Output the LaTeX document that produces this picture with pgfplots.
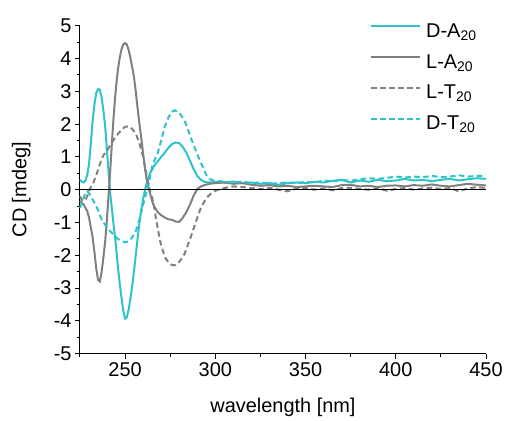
\documentclass[border=0pt]{standalone}
\usepackage{pgfplots}
\pgfplotsset{compat=1.18}
\usepackage{fontspec}
\setmainfont{Liberation Sans}
\definecolor{cyn}{RGB}{44,196,202}
\definecolor{gry}{RGB}{128,128,128}
\tikzset{lw/.style={line width=2bp}, dsh/.style={dash pattern=on 5.5bp off 3.5bp}}
\begin{document}
\begin{tikzpicture}
\begin{axis}[
  scale only axis, width=406bp, height=328bp,
  xmin=225, xmax=450, ymin=-5, ymax=5,
  axis lines=left, axis line style={-, line width=1bp},
  tick align=outside,
  xtick={250,300,350,400,450}, minor xtick={225,275,325,375,425},
  ytick={-5,-4,...,5}, minor ytick={-4.5,-3.5,-2.5,-1.5,-0.5,0.5,1.5,2.5,3.5,4.5},
  major tick length=5bp, minor tick length=3bp,
  every tick/.style={black, line width=1bp},
  /pgf/number format/assume math mode=true,
  tick label style={font=\fontsize{20}{24}\selectfont},
  xlabel={wavelength [nm]}, ylabel={CD [mdeg]},
  every axis x label/.style={at={(axis description cs:0.5,-0.165)}, anchor=center, font=\fontsize{20}{24}\selectfont},
  every axis y label/.style={at={(axis description cs:-0.145,0.5)}, anchor=center, rotate=90, font=\fontsize{20}{24}\selectfont},
  clip=false,
]
\addplot[cyn, lw] coordinates {
(225,0.30)(226,0.24)(227,0.22)(228,0.28)(229,0.45)(230,0.78)(231,1.4)(232,2.1)(233,2.6)(234,2.95)(235,3.07)(236,3.05)(237,2.8)(238,2.4)(239,1.9)(240,1.15)(241,0.4)(242,-0.25)(243,-0.75)(244,-1.25)(245,-1.75)(246,-2.35)(247,-2.85)(248,-3.3)(249,-3.7)(250,-3.93)(251,-3.88)(252,-3.65)(253,-3.3)(254,-2.9)(255,-2.45)(256,-1.95)(257,-1.45)(258,-0.98)(259,-0.6)(260,-0.28)(261,-0.02)(262,0.2)(263,0.38)(264,0.52)(266,0.72)(268,0.86)(270,1.0)(272,1.13)(274,1.28)(276,1.39)(278,1.44)(280,1.42)(282,1.3)(284,1.12)(286,0.88)(288,0.62)(290,0.42)(292,0.3)(294,0.24)(296,0.22)(298,0.22)(300,0.24)
(305,0.22)(310,0.25)(315,0.2)(320,0.22)(325,0.18)(330,0.2)(335,0.15)(340,0.2)(345,0.22)(350,0.2)(355,0.24)(360,0.22)(365,0.27)(370,0.3)(375,0.22)(380,0.28)(385,0.24)(390,0.3)(395,0.26)(400,0.28)(405,0.33)(410,0.28)(415,0.3)(420,0.26)(425,0.3)(430,0.33)(435,0.28)(440,0.32)(445,0.35)(450,0.33)};
\addplot[gry, lw] coordinates {
(225,-0.35)(227,-0.45)(229,-0.65)(230,-0.85)(231,-1.15)(232,-1.45)(233,-1.9)(234,-2.4)(235,-2.75)(236,-2.8)(237,-2.5)(238,-2.05)(239,-1.55)(240,-0.85)(241,-0.05)(242,0.8)(243,1.7)(244,2.5)(245,3.15)(246,3.65)(247,4.02)(248,4.28)(249,4.43)(250,4.47)(251,4.42)(252,4.25)(253,4.0)(254,3.72)(255,3.4)(256,2.95)(257,2.45)(258,1.98)(259,1.55)(260,1.1)(261,0.65)(262,0.3)(263,0.05)(264,-0.15)(265,-0.35)(266,-0.5)(268,-0.68)(270,-0.78)(272,-0.85)(274,-0.9)(276,-0.92)(278,-0.97)(280,-0.98)(282,-0.85)(284,-0.68)(286,-0.45)(288,-0.18)(290,0.02)(292,0.1)(294,0.14)(296,0.17)(298,0.19)(300,0.2)
(305,0.22)(310,0.18)(315,0.2)(320,0.15)(325,0.12)(330,0.14)(335,0.1)(340,0.12)(345,0.08)(350,0.1)(355,0.12)(360,0.1)(365,0.08)(370,0.14)(375,0.15)(380,0.1)(385,0.12)(390,0.08)(395,0.12)(400,0.13)(405,0.1)(410,0.14)(415,0.12)(420,0.16)(425,0.12)(430,0.1)(435,0.14)(440,0.18)(445,0.15)(450,0.13)};
\addplot[gry, lw, dsh] coordinates {
(225,-0.2)(226,-0.32)(227,-0.35)(228,-0.3)(229,-0.2)(230,-0.05)(231,0.08)(232,0.15)(233,0.3)(234,0.45)(235,0.6)(236,0.78)(237,0.92)(238,1.05)(239,1.13)(240,1.2)(241,1.28)(242,1.37)(244,1.55)(246,1.7)(248,1.82)(250,1.92)(252,1.93)(254,1.85)(256,1.7)(258,1.4)(259,1.2)(260,1.0)(261,0.72)(262,0.4)(263,0.12)(264,-0.08)(265,-0.25)(266,-0.5)(267,-0.85)(268,-1.15)(269,-1.45)(270,-1.7)(272,-2.05)(274,-2.22)(276,-2.3)(278,-2.3)(280,-2.2)(282,-2.05)(283,-1.95)(284,-1.8)(286,-1.5)(288,-1.18)(290,-0.85)(292,-0.55)(294,-0.35)(296,-0.2)(298,-0.1)(300,-0.03)
(305,0.05)(310,0.1)(315,0.08)(320,0.05)(325,0.02)(330,0.06)(335,0.0)(340,-0.05)(345,0.03)(350,0.05)(355,0.0)(360,0.04)(365,-0.02)(370,0.05)(375,0.06)(380,0.02)(385,0.0)(390,0.05)(395,-0.03)(400,0.02)(405,0.05)(410,0.0)(415,0.04)(420,0.06)(425,0.02)(430,0.05)(435,-0.05)(440,0.04)(445,0.08)(450,0.05)};
\addplot[cyn, lw, dsh] coordinates {
(225,-0.55)(226,-0.4)(227,-0.25)(228,-0.1)(229,-0.05)(230,-0.1)(231,-0.2)(232,-0.3)(233,-0.4)(234,-0.5)(235,-0.62)(236,-0.78)(237,-0.9)(238,-1.0)(240,-1.15)(242,-1.28)(244,-1.4)(246,-1.5)(248,-1.57)(250,-1.6)(252,-1.58)(254,-1.45)(256,-1.25)(258,-0.9)(260,-0.45)(261,-0.25)(262,-0.05)(263,0.15)(264,0.45)(265,0.7)(266,0.85)(267,1.0)(268,1.1)(270,1.5)(272,1.93)(274,2.2)(276,2.38)(277.5,2.42)(280,2.35)(283,2.1)(285,1.8)(287,1.5)(289,1.22)(291,0.95)(293,0.7)(295,0.45)(297,0.32)(299,0.28)(300,0.27)
(305,0.25)(310,0.22)(315,0.25)(320,0.2)(325,0.22)(330,0.18)(335,0.2)(340,0.22)(345,0.2)(350,0.24)(355,0.22)(360,0.28)(365,0.25)(370,0.3)(375,0.27)(380,0.32)(385,0.35)(390,0.33)(395,0.36)(400,0.4)(405,0.37)(410,0.4)(415,0.38)(420,0.42)(425,0.38)(430,0.4)(435,0.44)(440,0.4)(445,0.42)(450,0.43)};
\addplot[black, line width=1bp, forget plot] coordinates {(225,0) (450,0)};
\coordinate (TL) at (rel axis cs:0,1);
\coordinate (bbA) at (rel axis cs:0,0);
\coordinate (bbB) at (rel axis cs:1,1);
\end{axis}
\path ([xshift=-80bp,yshift=-67bp]bbA) rectangle ([xshift=21bp,yshift=25.7bp]bbB);
% legend
\begin{scope}[every node/.style={anchor=base west, inner sep=0pt, font=\fontsize{20}{24}\selectfont}]
\draw[cyn, lw] ([xshift=291bp,yshift=-0.7bp]TL) -- ++(49bp,0);
\node at ([xshift=346bp,yshift=-11.5bp]TL) {D-A\textsubscript{20}};
\draw[gry, lw] ([xshift=291bp,yshift=-31.7bp]TL) -- ++(49bp,0);
\node at ([xshift=346bp,yshift=-42.5bp]TL) {L-A\textsubscript{20}};
\draw[gry, lw, dsh] ([xshift=291bp,yshift=-62.3bp]TL) -- ++(49bp,0);
\node at ([xshift=346bp,yshift=-73.1bp]TL) {L-T\textsubscript{20}};
\draw[cyn, lw, dsh] ([xshift=291bp,yshift=-93bp]TL) -- ++(49bp,0);
\node at ([xshift=346bp,yshift=-103.8bp]TL) {D-T\textsubscript{20}};
\end{scope}
\end{tikzpicture}
\end{document}
